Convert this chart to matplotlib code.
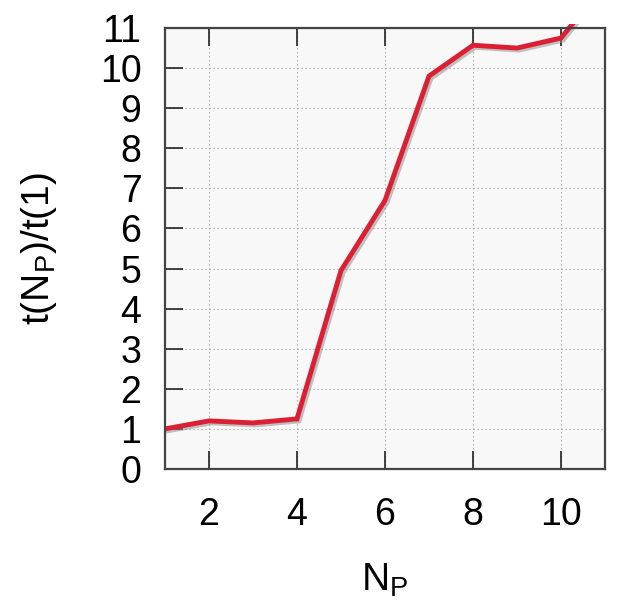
import matplotlib
matplotlib.use('Agg')
import matplotlib.pyplot as plt
import matplotlib.patheffects as pe
from matplotlib.patches import Rectangle

# Speed-up ratio against number of processes
n_procs = [1, 2, 3, 4, 5, 6, 7, 8, 9, 10, 11]
ratio = [1.0, 1.2, 1.15, 1.25, 4.95, 6.7, 9.8, 10.57, 10.5, 10.75, 12.1]

x_ticks = [2, 4, 6, 8, 10]
y_ticks = list(range(0, 12))

plt.rcParams['font.family'] = ['Liberation Sans', 'DejaVu Sans']
plt.rcParams['mathtext.fontset'] = 'custom'
plt.rcParams['mathtext.rm'] = 'Liberation Sans'

fig = plt.figure(figsize=(6.23, 6.05), dpi=100)
ax = fig.add_axes([165 / 623, 1 - 469 / 605, 440 / 623, 441 / 605])
ax.set_facecolor('#f8f8f8')

line, = ax.plot(n_procs, ratio, color='#dc1f32', lw=3.5, solid_joinstyle='miter',
                path_effects=[pe.SimpleLineShadow(offset=(1.5, -1.5), shadow_color='#888888', alpha=0.5),
                              pe.Normal()])
# let the curve run a little past the top edge
clip = Rectangle((0, 0), 1, 1.008, transform=ax.transAxes)
line.set_clip_path(clip)

ax.set_xlim(1, 11)
ax.set_ylim(0, 11)
ax.set_xticks(x_ticks)
ax.set_yticks(y_ticks)

ax.grid(True, color='#a8a8a8', linestyle=(0, (1, 2.2)), linewidth=0.9)
ax.set_axisbelow(True)

ax.tick_params(direction='in', length=13, width=1.2, color='#222222',
               top=True, right=False, labelsize=27)
ax.tick_params(axis='x', pad=20)
ax.tick_params(axis='y', pad=17)

for s in ax.spines.values():
    s.set_color('#444444')
    s.set_linewidth(1.6)

ax.set_xlabel(r'$\mathregular{N_P}$', fontsize=28, labelpad=21)
ax.set_ylabel(r't($\mathregular{N_P}$)/t(1)', fontsize=28, labelpad=29)

fig.savefig('out.png', dpi=100)
